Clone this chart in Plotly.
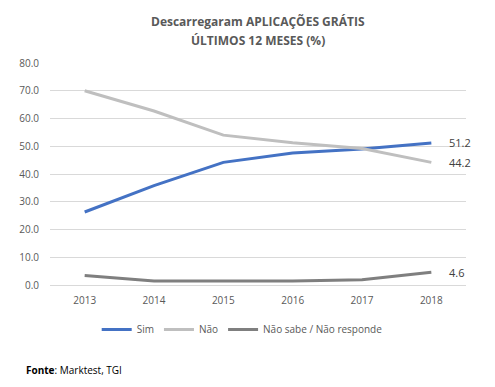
import plotly.graph_objects as go

years = ["2013", "2014", "2015", "2016", "2017", "2018"]
sim = [26.3, 35.8, 44.2, 47.6, 49.0, 51.2]
nao = [70.0, 62.7, 54.0, 51.3, 49.2, 44.2]
nsnr = [3.4, 1.4, 1.4, 1.4, 1.9, 4.6]
y_ticks = [0, 10, 20, 30, 40, 50, 60, 70, 80]
title_lines = ["Descarregaram APLICAÇÕES GRÁTIS", "ÚLTIMOS 12 MESES (%)"]

series = [
    ("Sim", sim, "#4472C4"),
    ("Não", nao, "#BFBFBF"),
    ("Não sabe / Não responde", nsnr, "#7F7F7F"),
]

fig = go.Figure()
for name, vals, color in series:
    fig.add_trace(go.Scatter(
        x=years, y=vals, name=name, mode="lines",
        line=dict(color=color, width=3),
    ))
    fig.add_annotation(x=len(years) - 1, y=vals[-1], text=f"{vals[-1]:.1f}",
                       xref="x", yref="y",
                       xanchor="left", yanchor="middle", xshift=16,
                       showarrow=False,
                       font=dict(color="#404040", size=11, family="Open Sans"))

for line, ypos in zip(title_lines, [1.1847, 1.1036]):
    fig.add_annotation(text=f"<b>{line}</b>", xref="paper", yref="paper",
                       x=0.5, xanchor="center", y=ypos, yanchor="middle",
                       showarrow=False,
                       font=dict(size=12, color="#595959", family="Open Sans"))

fig.update_layout(
    width=487, height=379,
    margin=dict(l=42, r=29, t=55, b=102),
    paper_bgcolor="white", plot_bgcolor="white",
    font=dict(family="Open Sans", color="#595959", size=10),
    showlegend=True,
    legend=dict(orientation="h", x=0.462, xanchor="center", y=-0.135, yanchor="top",
                font=dict(size=10, color="#595959"), itemwidth=30),
)
fig.update_xaxes(type="category", range=[-0.5, 5.5], showgrid=False, showline=False,
                 ticks="", ticklabelstandoff=8,
                 tickfont=dict(size=10, color="#595959"))
fig.update_yaxes(range=[0, 80], tickvals=y_ticks, tickformat=".1f",
                 showgrid=True, gridcolor="#D9D9D9", gridwidth=1,
                 zeroline=True, zerolinecolor="#D9D9D9", zerolinewidth=1,
                 showline=False, ticks="", ticklabelstandoff=10,
                 tickfont=dict(size=10, color="#595959"))

fig.add_annotation(text="<b>Fonte</b>: Marktest, TGI", xref="paper", yref="paper",
                   x=-0.063, xanchor="left", y=-0.383, yanchor="middle", showarrow=False,
                   font=dict(size=10, color="#000000", family="Open Sans"))

fig.write_html("out.html")
